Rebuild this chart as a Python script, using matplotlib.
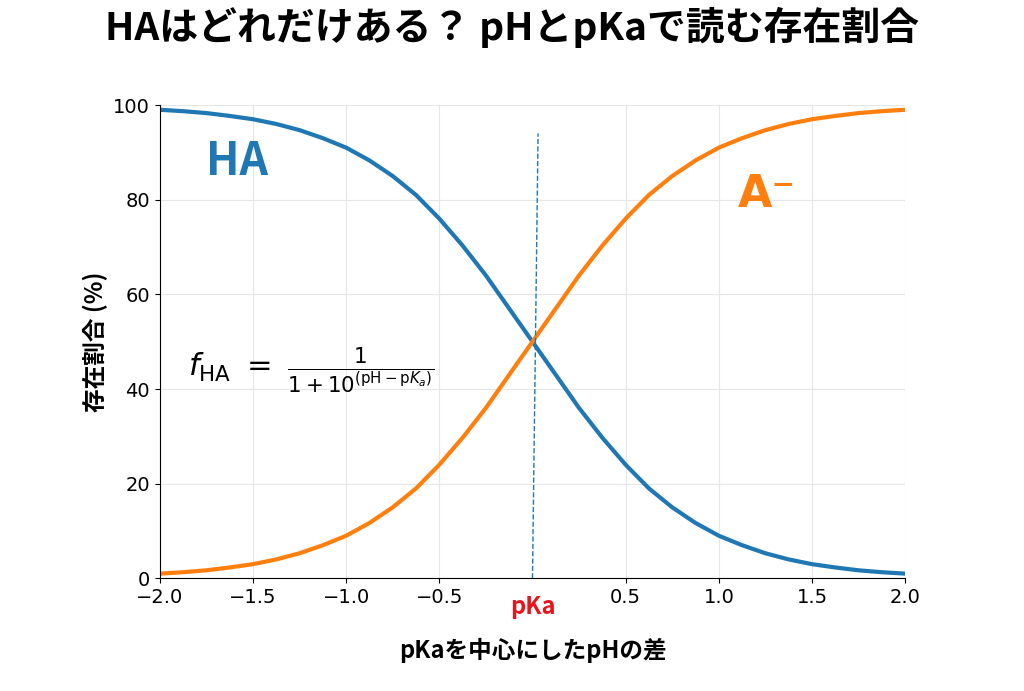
import matplotlib
matplotlib.use("Agg")
import matplotlib.pyplot as plt

plt.rcParams['font.family'] = ['Noto Sans CJK JP', 'DejaVu Sans']

x_vals = [-2.0, -1.875, -1.75, -1.625, -1.5, -1.375, -1.25, -1.125, -1.0, -0.875, -0.75, -0.625, -0.5, -0.375, -0.25, -0.125,
          0.0, 0.125, 0.25, 0.375, 0.5, 0.625, 0.75, 0.875, 1.0, 1.125, 1.25, 1.375, 1.5, 1.625, 1.75, 1.875, 2.0]
ha_vals = [99.0, 98.7, 98.3, 97.7, 97.0, 96.0, 94.7, 93.0, 91.0, 88.3, 85.0, 81.0, 76.0, 70.3, 64.0, 57.0,
           50.0, 43.0, 36.0, 29.7, 24.0, 19.0, 15.0, 11.7, 9.0, 7.0, 5.3, 4.0, 3.0, 2.3, 1.7, 1.3, 1.0]
a_vals = [1.0, 1.3, 1.7, 2.3, 3.0, 4.0, 5.3, 7.0, 9.0, 11.7, 15.0, 19.0, 24.0, 29.7, 36.0, 43.0,
          50.0, 57.0, 64.0, 70.3, 76.0, 81.0, 85.0, 88.3, 91.0, 93.0, 94.7, 96.0, 97.0, 97.7, 98.3, 98.7, 99.0]
xticks = [-2.0, -1.5, -1.0, -0.5, 0.5, 1.0, 1.5, 2.0]
yticks = [0, 20, 40, 60, 80, 100]

fig = plt.figure(figsize=(10.24, 6.91), dpi=100)
ax = fig.add_axes([0.156, 0.163, 0.728, 0.685])
ax.plot(x_vals, ha_vals, color='#1f77b4', lw=3)
ax.plot(x_vals, a_vals, color='#ff7f0e', lw=3)
ax.plot([0, 0.03], [0, 94], color='#1f77b4', lw=1, ls='--')
ax.set_xlim(-2, 2)
ax.set_ylim(0, 100)
ax.set_xticks(xticks)
ax.set_xticklabels([f"{t:.1f}".replace('-', '\u2212') for t in xticks], fontsize=14, family='DejaVu Sans')
ax.set_yticks(yticks)
ax.set_yticklabels([str(t) for t in yticks], fontsize=14, family='DejaVu Sans')
ax.grid(True, color='#e6e6e6', lw=0.8)
for s in ['top', 'right']:
    ax.spines[s].set_visible(False)
ax.text(0, -3.5, 'pKa', color='#e8141c', fontsize=17, fontweight='bold', ha='center', va='top')
ax.set_xlabel('pKaを中心にしたpHの差', fontsize=17, fontweight='bold', labelpad=22)
ax.set_ylabel('存在割合 (%)', fontsize=17, fontweight='bold')
ax.text(-1.75, 88, 'HA', color='#1f77b4', fontsize=32, fontweight='bold', va='center')
ax.text(1.1, 81, 'A⁻', color='#ff7f0e', fontsize=32, fontweight='bold', va='center', family='DejaVu Sans')
ax.text(-1.85, 44, r'$f_{\mathrm{HA}}\ =\ \frac{1}{1+10^{(\mathrm{pH}-\mathrm{p}K_a)}}$', fontsize=22, va='center')
fig.suptitle('HAはどれだけある？ pHとpKaで読む存在割合', fontsize=28, fontweight='bold', y=0.99)
fig.savefig('out.png')
